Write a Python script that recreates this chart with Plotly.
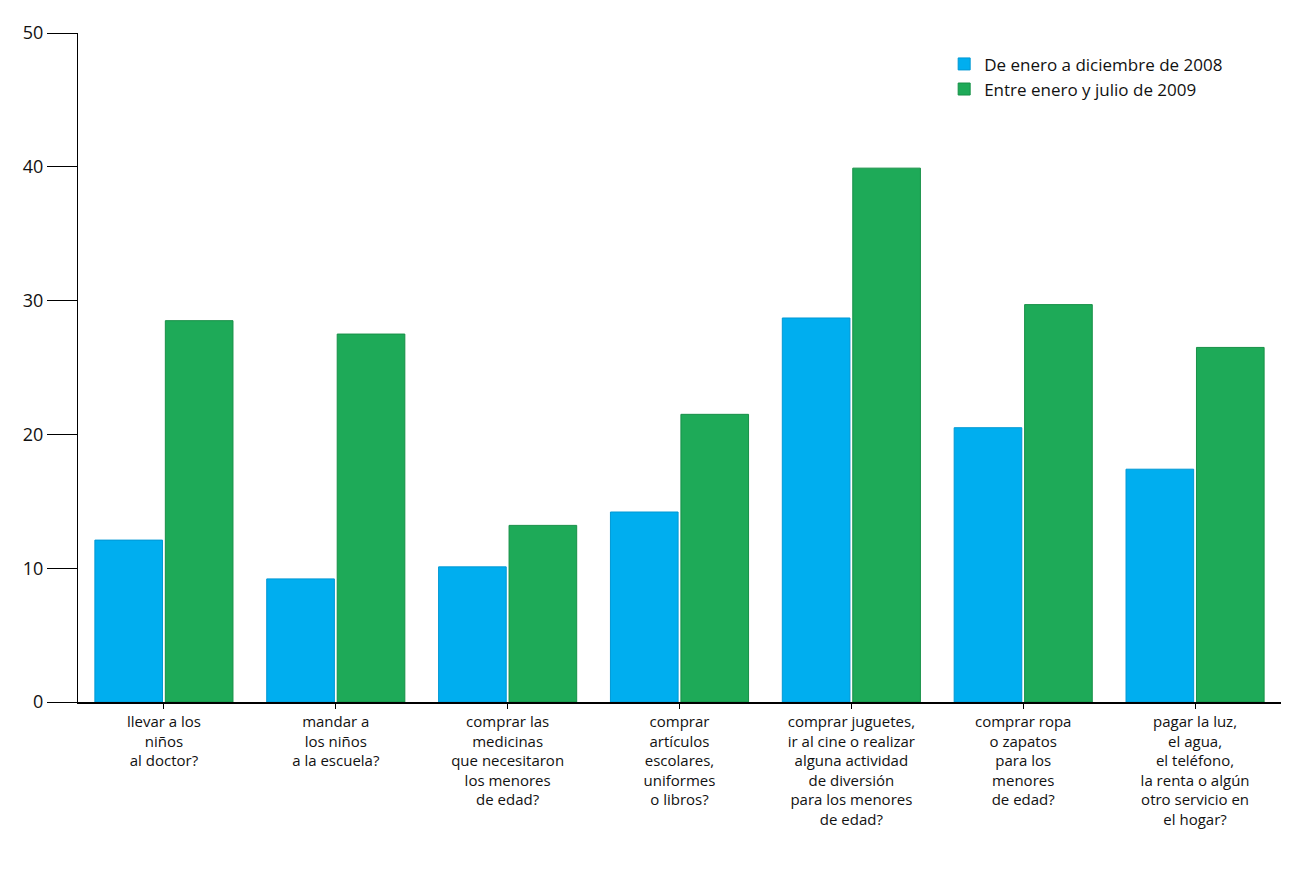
import plotly.graph_objects as go

categories = ["llevar a los<br>niños<br>al doctor?",
              "mandar a<br>los niños<br>a la escuela?",
              "comprar las<br>medicinas<br>que necesitaron<br>los menores<br>de edad?",
              "comprar<br>artículos<br>escolares,<br>uniformes<br>o libros?",
              "comprar juguetes,<br>ir al cine o realizar<br>alguna actividad<br>de diversión<br>para los menores<br>de edad?",
              "comprar ropa<br>o zapatos<br>para los<br>menores<br>de edad?",
              "pagar la luz,<br>el agua,<br>el teléfono,<br>la renta o algún<br>otro servicio en<br>el hogar?"]
serie_2008 = [12.1, 9.2, 10.1, 14.2, 28.7, 20.5, 17.4]
serie_2009 = [28.5, 27.5, 13.2, 21.5, 39.9, 29.7, 26.5]

fig = go.Figure()
fig.add_bar(x=categories, y=serie_2008, name="De enero a diciembre de 2008",
            marker=dict(color="#00AEEF", line=dict(color="#0098D4", width=1)))
fig.add_bar(x=categories, y=serie_2009, name="Entre enero y julio de 2009",
            marker=dict(color="#1EAA58", line=dict(color="#179047", width=1)))
fig.update_layout(
    width=1293, height=869, barmode="group", bargap=0.18, bargroupgap=0.04,
    plot_bgcolor="white", paper_bgcolor="white",
    font=dict(family="Open Sans", size=15, color="#111"),
    margin=dict(l=70, r=20, t=15, b=175),
    legend=dict(x=0.72, y=0.98, xanchor="left", yanchor="top", font=dict(size=17)),
    yaxis=dict(range=[0, 50], dtick=10, ticks="outside", ticklen=30, tickcolor="black",
               showline=True, linecolor="black", showgrid=False, tickfont=dict(size=18)),
    xaxis=dict(showline=True, linecolor="black", linewidth=2, ticks="outside",
               tickcolor="black", tickangle=0, tickfont=dict(size=15)),
)
fig.write_html("out.html")
